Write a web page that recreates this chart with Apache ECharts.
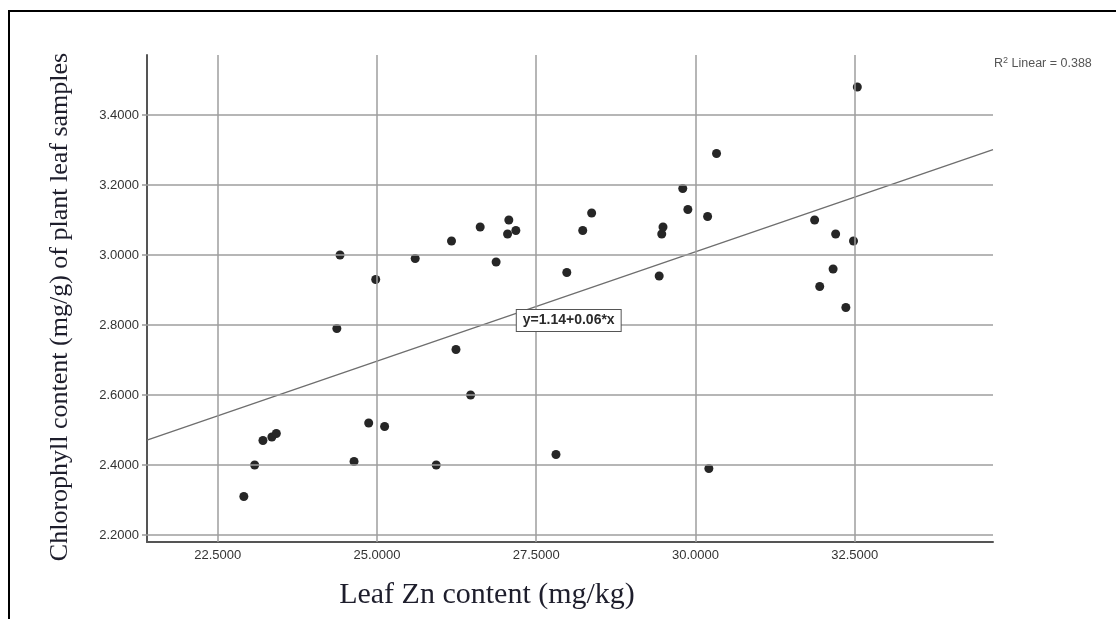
<!DOCTYPE html>
<html>
<head>
<meta charset="utf-8">
<title>Leaf Zn vs chlorophyll</title>
<script src="https://cdn.jsdelivr.net/npm/echarts@6/dist/echarts.min.js"></script>
<style>
    html, body { margin: 0; padding: 0; background: #fff; }
    #main { width: 1116px; height: 619px; }
</style>
</head>
<body>
<div id="main"></div>
<script>
// leaf Zn (mg/kg) and chlorophyll (mg/g) per sample
var zinc = [22.91, 23.08, 23.21, 23.35, 23.42, 24.37, 24.42, 24.64, 24.87, 24.98,
    25.12, 25.60, 25.93, 26.17, 26.24, 26.47, 26.62, 26.87, 27.07, 27.05,
    27.18, 27.81, 27.98, 28.23, 28.37, 29.43, 29.47, 29.49, 29.80, 29.88,
    30.19, 30.21, 30.33, 31.87, 31.95, 32.16, 32.20, 32.36, 32.48, 32.54];
var chlorophyll = [2.31, 2.40, 2.47, 2.48, 2.49, 2.79, 3.00, 2.41, 2.52, 2.93,
    2.51, 2.99, 2.40, 3.04, 2.73, 2.60, 3.08, 2.98, 3.10, 3.06,
    3.07, 2.43, 2.95, 3.07, 3.12, 2.94, 3.06, 3.08, 3.19, 3.13,
    3.11, 2.39, 3.29, 3.10, 2.91, 2.96, 3.06, 2.85, 3.04, 3.48];

var xTicks = [22.5, 25, 27.5, 30, 32.5];
var yTicks = [2.2, 2.4, 2.6, 2.8, 3.0, 3.2, 3.4];

// fit line as drawn (label shows the rounded equation)
var fitIntercept = 1.134;
var fitSlope = 0.0625;
var fitText = 'y=1.14+0.06*x';
var fitLabelAt = [28.01, 2.813];
var r2Value = '0.388';

var xMin = 21.39, xMax = 34.67;
var yMin = 2.18, yMax = 3.5714;

var points = [];
for (var i = 0; i < zinc.length; i++) {
    points.push([zinc[i], chlorophyll[i]]);
}
var fitLine = [
    [xMin, fitIntercept + fitSlope * xMin],
    [xMax, fitIntercept + fitSlope * xMax]
];

var gridMarks = [];
for (var i = 0; i < xTicks.length; i++) gridMarks.push({ xAxis: xTicks[i] });
for (var j = 0; j < yTicks.length; j++) gridMarks.push({ yAxis: yTicks[j] });

var fmt4 = function (v) { return Number(v).toFixed(4); };

var myChart = echarts.init(document.getElementById('main'));
var option = {
    animation: false,
    backgroundColor: '#fff',
    grid: { left: 147, right: 123, top: 55, bottom: 77 },
    xAxis: {
        type: 'value',
        min: xMin,
        max: xMax,
        name: 'Leaf Zn content (mg/kg)',
        nameLocation: 'middle',
        nameGap: 38,
        nameTextStyle: {
            fontFamily: 'Liberation Serif',
            fontSize: 30,
            color: '#1e1e2c',
            padding: [0, 166, 0, 0]
        },
        axisLine: { show: true, lineStyle: { color: '#555', width: 2 } },
        axisTick: { show: false },
        axisLabel: {
            customValues: xTicks,
            formatter: fmt4,
            fontFamily: 'Liberation Sans',
            fontSize: 13,
            color: '#333',
            margin: 7
        },
        splitLine: { show: false }
    },
    yAxis: {
        type: 'value',
        min: yMin,
        max: yMax,
        name: 'Chlorophyll content (mg/g) of plant leaf samples',
        nameLocation: 'middle',
        nameGap: 74,
        nameTextStyle: {
            fontFamily: 'Liberation Serif',
            fontSize: 26,
            color: '#1e1e2c',
            padding: [0, 17, 0, 0]
        },
        axisLine: { show: true, lineStyle: { color: '#555', width: 2 } },
        axisTick: {
            show: true,
            customValues: yTicks,
            length: 5,
            lineStyle: { color: '#999', width: 1.5 }
        },
        axisLabel: {
            customValues: yTicks,
            formatter: fmt4,
            fontFamily: 'Liberation Sans',
            fontSize: 13,
            color: '#333',
            margin: 8
        },
        splitLine: { show: false }
    },
    series: [
        {
            name: 'grid',
            type: 'line',
            data: [],
            z: 1,
            silent: true,
            markLine: {
                silent: true,
                symbol: ['none', 'none'],
                label: { show: false },
                lineStyle: { color: '#9e9e9e', width: 1.5, type: 'solid' },
                emphasis: { disabled: true },
                data: gridMarks
            }
        },
        {
            name: 'fit',
            type: 'line',
            data: fitLine,
            z: 2,
            symbol: 'none',
            silent: true,
            lineStyle: { color: '#6e6e6e', width: 1.3 },
            markPoint: {
                silent: true,
                symbol: 'rect',
                symbolSize: 1,
                itemStyle: { color: 'rgba(0,0,0,0)' },
                label: {
                    show: true,
                    position: 'inside',
                    formatter: fitText,
                    fontFamily: 'Liberation Sans',
                    fontSize: 14,
                    fontWeight: 'bold',
                    color: '#2a2a2a',
                    backgroundColor: '#fff',
                    borderColor: '#555',
                    borderWidth: 1,
                    padding: [4, 6, 3, 6]
                },
                data: [{ coord: fitLabelAt }]
            }
        },
        {
            name: 'samples',
            type: 'scatter',
            data: points,
            z: 3,
            symbolSize: 9,
            itemStyle: { color: '#262626', opacity: 1 }
        }
    ],
    graphic: [
        { type: 'line', shape: { x1: 8, y1: 11, x2: 1116, y2: 11 }, style: { stroke: '#000', lineWidth: 2 } },
        { type: 'line', shape: { x1: 9, y1: 11, x2: 9, y2: 619 }, style: { stroke: '#000', lineWidth: 2 } },
        {
            type: 'text',
            left: 994,
            top: 56,
            style: {
                text: 'R{sup|2} Linear = ' + r2Value,
                fontFamily: 'Liberation Sans',
                fontSize: 12.5,
                fill: '#555',
                rich: {
                    sup: { fontSize: 9, verticalAlign: 'top', padding: [0, 0, 6, 0], fill: '#555' }
                }
            }
        }
    ]
};
myChart.setOption(option);
</script>
</body>
</html>
